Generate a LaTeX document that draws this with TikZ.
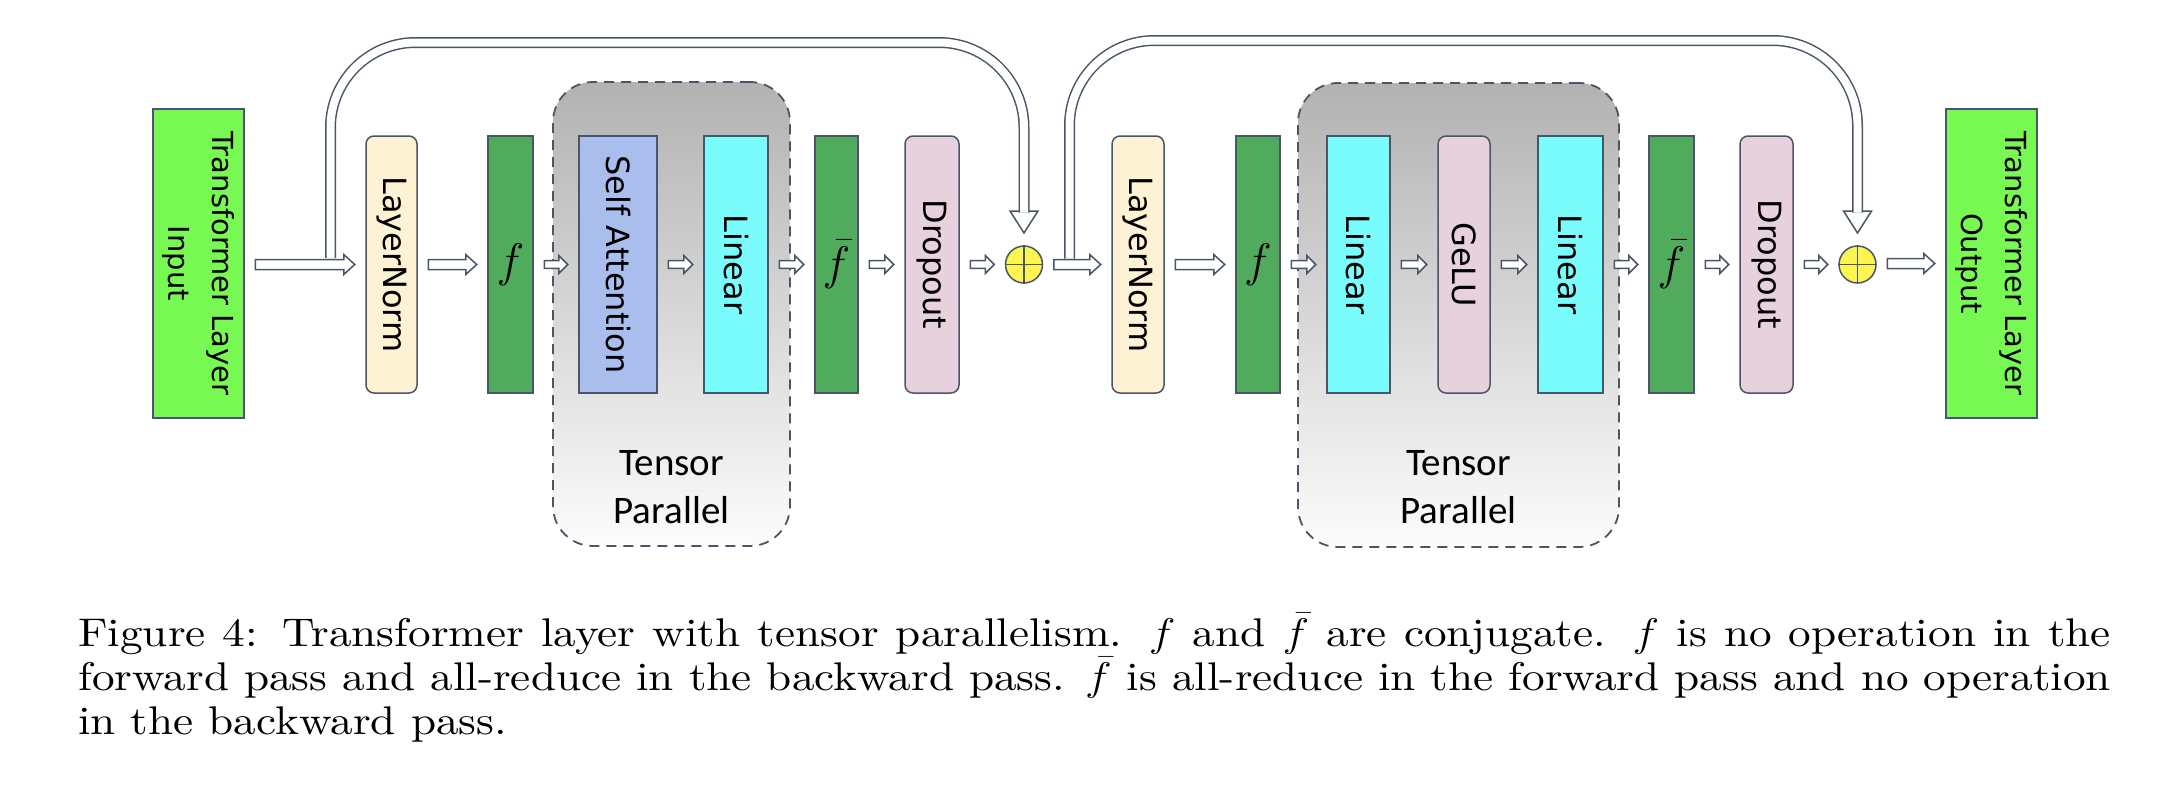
\RequirePackage{fix-cm}
\documentclass[tikz,border=0pt]{standalone}
\usepackage{fontspec}
\usepackage{graphicx}
\usetikzlibrary{calc}
\newfontfamily\dejavu{DejaVu Sans}
\newfontfamily\carlito{Carlito}
\newfontfamily\cmten{lmroman10-regular.otf}
\definecolor{lc}{RGB}{74,85,104}
\definecolor{iogreen}{RGB}{120,248,82}
\definecolor{fgreen}{RGB}{80,172,92}
\definecolor{lncream}{RGB}{253,242,212}
\definecolor{pinkish}{RGB}{230,209,220}
\definecolor{sablue}{RGB}{170,190,238}
\definecolor{lincyan}{RGB}{122,252,252}
\definecolor{plusyellow}{RGB}{250,245,80}
\definecolor{tptop}{RGB}{178,178,178}
\definecolor{tpbot}{RGB}{252,252,252}
\begin{document}
\begin{tikzpicture}[x=1pt,y=-1pt,
  bx/.style={draw=lc, line width=1.5pt, inner sep=0pt, minimum height=257pt},
  rbx/.style={bx, rounded corners=8pt},
  iobx/.style={draw=lc, line width=1.5pt, inner sep=0pt, fill=iogreen, minimum width=91pt, minimum height=309pt},
  lbl/.style={rotate=-90, font=\dejavu\fontsize{32}{38}\selectfont, inner sep=0pt},
  iolbl/.style={rotate=-90, font=\dejavu\fontsize{29}{44}\selectfont, inner sep=0pt, align=center},
  flbl/.style={font=\fontsize{47}{52}\selectfont, inner sep=0pt},
  tpbox/.style={draw=lc, line width=1.8pt, dash pattern=on 10pt off 7pt, rounded corners=40pt, top color=tptop, bottom color=tpbot, minimum height=464pt, inner sep=0pt},
  tplbl/.style={anchor=base, font=\carlito\fontsize{39}{48}\selectfont, inner sep=0pt},
  plus/.style={circle, draw=lc, line width=1.5pt, fill=plusyellow, minimum size=37pt, inner sep=0pt},
  bigarrow/.style={draw=lc, fill=white, line width=1.5pt, line join=miter,
    to path={let \p1=(\tikztostart), \p2=(\tikztotarget) in
      (\x1+10.5pt,\y2+5pt) -- (\x2-21.5pt,\y2+5pt) -- (\x2-21.5pt,\y2+10pt) -- (\x2-10.5pt,\y2)
      -- (\x2-21.5pt,\y2-10pt) -- (\x2-21.5pt,\y2-5pt) -- (\x1+10.5pt,\y2-5pt) -- cycle}},
  smallarrow/.style={draw=lc, fill=white, line width=1.5pt, line join=miter,
    to path={let \p1=(\tikztostart), \p2=(\tikztotarget) in
      (\x1+10.5pt,\y2+3.8pt) -- (\x2-19.5pt,\y2+3.8pt) -- (\x2-19.5pt,\y2+9pt) -- (\x2-10.5pt,\y2)
      -- (\x2-19.5pt,\y2-9pt) -- (\x2-19.5pt,\y2-3.8pt) -- (\x1+10.5pt,\y2-3.8pt) -- cycle}},
  skipline/.style={draw=lc, line width=1.5pt, double=white, double distance=8pt, rounded corners=85pt},
  skiphead/.style={draw=lc, fill=white, line width=1.5pt, line join=miter},
  caplbl/.style={anchor=base west, inner sep=0pt, font=\cmten\fontsize{40}{44}\selectfont}
]
\useasboundingbox (0,0) rectangle (2158,804);
\fill[white] (0,0) rectangle (2158,804);

% tensor parallel regions
\node[tpbox, minimum width=237pt] (tp1) at (671.5,314) {};
\node[tpbox, minimum width=321pt] (tp2) at (1458.5,315) {};
\node[tplbl] (tp1a) at (671.5,475) {Tensor};
\node[tplbl] (tp1b) at (671.5,523) {Parallel};
\node[tplbl] (tp2a) at (1458.5,475) {Tensor};
\node[tplbl] (tp2b) at (1458.5,523) {Parallel};

% boxes
\node[iobx] (in) at (198.5,263.5) {};
\node[iolbl] (inl) at (in.center) {Transformer Layer\\Input};
\node[rbx, fill=lncream, minimum width=51pt] (ln1) at (391.5,264.5) {};
\node[lbl] (ln1l) at (ln1.center) {LayerNorm};
\node[bx, fill=fgreen, minimum width=45pt] (f1) at (510.5,264.5) {};
\node[flbl] (f1l) at (f1.center) {$f$};
\node[bx, fill=sablue, minimum width=78pt] (sa) at (618,264.5) {};
\node[lbl] (sal) at (sa.center) {Self Attention};
\node[bx, fill=lincyan, minimum width=64pt] (lin1) at (736,264.5) {};
\node[lbl] (lin1l) at (lin1.center) {Linear};
\node[bx, fill=fgreen, minimum width=43pt] (fb1) at (836.5,264.5) {};
\node[flbl] (fb1l) at (fb1.center) {$\bar{f}$};
\node[rbx, fill=pinkish, minimum width=54pt] (dr1) at (932,264.5) {};
\node[lbl] (dr1l) at (dr1.center) {Dropout};
\node[plus] (p1) at (1024,264.5) {};
\draw[lc, line width=1.5pt] (p1.north) -- (p1.south) (p1.west) -- (p1.east);

\node[rbx, fill=lncream, minimum width=52pt] (ln2) at (1138,264.5) {};
\node[lbl] (ln2l) at (ln2.center) {LayerNorm};
\node[bx, fill=fgreen, minimum width=44pt] (f2) at (1258,264.5) {};
\node[flbl] (f2l) at (f2.center) {$f$};
\node[bx, fill=lincyan, minimum width=63pt] (lin2) at (1358.5,264.5) {};
\node[lbl] (lin2l) at (lin2.center) {Linear};
\node[rbx, fill=pinkish, minimum width=52pt] (gelu) at (1464,264.5) {};
\node[lbl] (gelul) at (gelu.center) {GeLU};
\node[bx, fill=lincyan, minimum width=65pt] (lin3) at (1570.5,264.5) {};
\node[lbl] (lin3l) at (lin3.center) {Linear};
\node[bx, fill=fgreen, minimum width=45pt] (fb2) at (1671.5,264.5) {};
\node[flbl] (fb2l) at (fb2.center) {$\bar{f}$};
\node[rbx, fill=pinkish, minimum width=53pt] (dr2) at (1766.5,264.5) {};
\node[lbl] (dr2l) at (dr2.center) {Dropout};
\node[plus] (p2) at (1857.5,264.5) {};
\draw[lc, line width=1.5pt] (p2.north) -- (p2.south) (p2.west) -- (p2.east);
\node[iobx] (out) at (1991.5,263.5) {};
\node[iolbl] (outl) at (out.center) {Transformer Layer\\Output};

% main arrows
\draw[bigarrow] (in.east) to (ln1.west);
\draw[bigarrow] (ln1.east) to (f1.west);
\draw[smallarrow] (f1.east) to (sa.west);
\draw[smallarrow] (sa.east) to (lin1.west);
\draw[smallarrow] (lin1.east) to (fb1.west);
\draw[smallarrow] (fb1.east) to (dr1.west);
\draw[smallarrow] (dr1.east) to (p1.west);
\draw[bigarrow] (p1.east) to (ln2.west);
\draw[bigarrow] (ln2.east) to (f2.west);
\draw[smallarrow] (f2.east) to (lin2.west);
\draw[smallarrow] (lin2.east) to (gelu.west);
\draw[smallarrow] (gelu.east) to (lin3.west);
\draw[smallarrow] (lin3.east) to (fb2.west);
\draw[smallarrow] (fb2.east) to (dr2.west);
\draw[smallarrow] (dr2.east) to (p2.west);
\draw[bigarrow] (p2.east) to (out.west);

% skip connections
\coordinate (k1s) at (330.5,258);
\coordinate (k1e) at (1024,212.5);
\coordinate (k2s) at (1069.5,258.5);
\coordinate (k2e) at (1857.5,212.5);
\draw[skiphead] (1010,211) -- (1024,233) -- (1038,211) -- cycle;
\draw[skiphead] (1843.5,211) -- (1857.5,233) -- (1871.5,211) -- cycle;
\draw[skipline] (k1s) -- (330.5,42.5) -- (1024,42.5) -- (k1e);
\draw[skipline] (k2s) -- (1069.5,40.5) -- (1857.5,40.5) -- (k2e);

% caption
\node[caplbl] (cap1) at (78,646) {\scalebox{1.13}[1]{\hbox to 1799pt{Figure 4: Transformer layer with tensor parallelism. $f$ and $\bar{f}$ are conjugate. $f$ is no operation in the}}};
\node[caplbl] (cap2) at (78,690) {\scalebox{1.13}[1]{\hbox to 1799pt{forward pass and all-reduce in the backward pass. $\bar{f}$ is all-reduce in the forward pass and no operation}}};
\node[caplbl] (cap3) at (78,734) {\scalebox{1.13}[1]{in the backward pass.}};
\end{tikzpicture}
\end{document}
